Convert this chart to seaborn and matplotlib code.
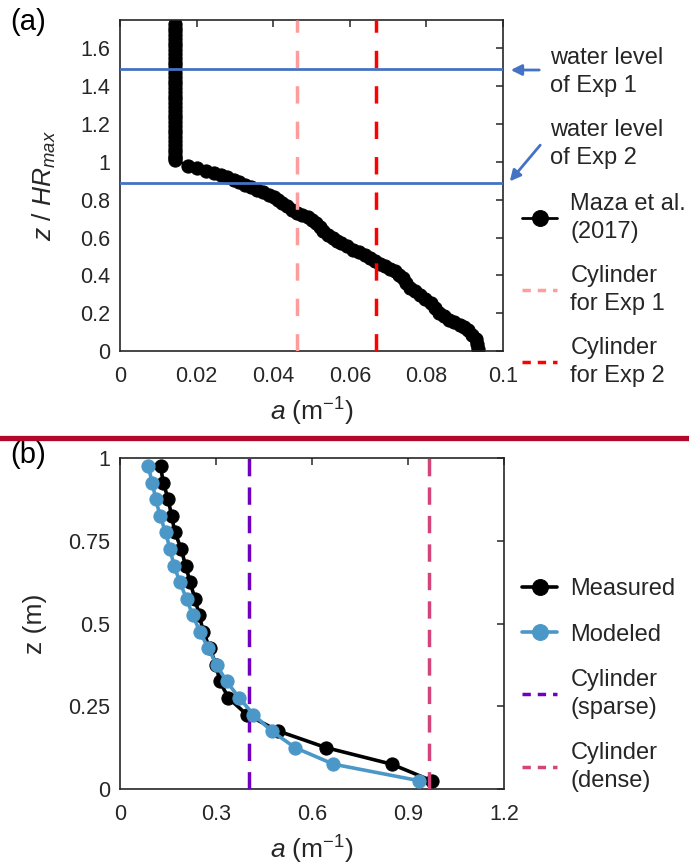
import matplotlib
matplotlib.use("Agg")
import matplotlib.pyplot as plt
from matplotlib.lines import Line2D
from matplotlib.patches import FancyArrowPatch
import seaborn as sns
import pandas as pd

# ---------------- data: panel (a) ----------------
maza_a = [0.0143] * 38 + [
    0.0178, 0.0200, 0.0224, 0.0245, 0.0263, 0.0280, 0.0297, 0.0312, 0.0327,
    0.0342, 0.0357, 0.0373, 0.0389, 0.0401, 0.0413, 0.0424, 0.0435, 0.0448,
    0.0461, 0.0476, 0.0491, 0.0502, 0.0513, 0.0521, 0.0530, 0.0543, 0.0556,
    0.0567, 0.0578, 0.0593, 0.0608, 0.0623, 0.0639, 0.0652, 0.0665, 0.0678,
    0.0691, 0.0704, 0.0717, 0.0728, 0.0739, 0.0747, 0.0756, 0.0769, 0.0782,
    0.0797, 0.0813, 0.0823, 0.0834, 0.0847, 0.0860, 0.0873, 0.0887, 0.0897,
    0.0908, 0.0920, 0.0930, 0.0932, 0.0935]
maza_z = [1.73, 1.71, 1.69, 1.67, 1.65, 1.63, 1.61, 1.59, 1.57, 1.55, 1.53,
          1.51, 1.49, 1.47, 1.45, 1.43, 1.41, 1.39, 1.37, 1.35, 1.33, 1.31,
          1.29, 1.27, 1.25, 1.23, 1.21, 1.19, 1.17, 1.15, 1.13, 1.11, 1.09,
          1.07, 1.05, 1.03, 1.02, 1.01] + [
    0.980, 0.967, 0.954, 0.942, 0.931, 0.918, 0.905, 0.892, 0.880,
    0.866, 0.852, 0.839, 0.826, 0.812, 0.799, 0.782, 0.764, 0.746,
    0.729, 0.720, 0.711, 0.694, 0.677, 0.655, 0.632, 0.615, 0.597,
    0.584, 0.571, 0.553, 0.536, 0.522, 0.509, 0.491, 0.474, 0.460,
    0.447, 0.434, 0.421, 0.403, 0.386, 0.360, 0.334, 0.316, 0.298,
    0.276, 0.254, 0.228, 0.202, 0.184, 0.166, 0.153, 0.140, 0.126,
    0.113, 0.087, 0.061, 0.035, 0.008]
cyl_exp1_a = 0.0463
cyl_exp2_a = 0.0668
water_level_exp1 = 1.49
water_level_exp2 = 0.888
xticks_a = [0, 0.02, 0.04, 0.06, 0.08, 0.1]
xticklabels_a = ["0", "0.02", "0.04", "0.06", "0.08", "0.1"]
yticks_a = [0, 0.2, 0.4, 0.6, 0.8, 1.0, 1.2, 1.4, 1.6]
yticklabels_a = ["0", "0.2", "0.4", "0.6", "0.8", "1", "1.2", "1.4", "1.6"]

# ---------------- data: panel (b) ----------------
z_b = [0.975, 0.925, 0.875, 0.825, 0.775, 0.725, 0.675, 0.625, 0.575, 0.525,
       0.475, 0.425, 0.375, 0.325, 0.275, 0.225, 0.175, 0.125, 0.075, 0.025]
measured_a = [0.127, 0.135, 0.151, 0.161, 0.172, 0.191, 0.205, 0.219, 0.234,
              0.248, 0.260, 0.281, 0.300, 0.312, 0.339, 0.396, 0.495, 0.644,
              0.849, 0.974]
modeled_a = [0.088, 0.101, 0.112, 0.125, 0.143, 0.156, 0.169, 0.187, 0.208,
             0.227, 0.250, 0.276, 0.302, 0.333, 0.373, 0.417, 0.474, 0.547,
             0.667, 0.935]
cyl_sparse_a = 0.404
cyl_dense_a = 0.966
xticks_b = [0, 0.3, 0.6, 0.9, 1.2]
xticklabels_b = ["0", "0.3", "0.6", "0.9", "1.2"]
yticks_b = [0, 0.25, 0.5, 0.75, 1.0]
yticklabels_b = ["0", "0.25", "0.5", "0.75", "1"]

# ---------------- style ----------------
sns.set_theme(style="white")
plt.rcParams["font.family"] = ["Liberation Sans", "DejaVu Sans"]
plt.rcParams["mathtext.fontset"] = "custom"
plt.rcParams["mathtext.it"] = "Liberation Sans:italic"
plt.rcParams["mathtext.rm"] = "Liberation Sans"
plt.rcParams["mathtext.default"] = "regular"

TXT = "#262626"
TICK_FS = 15.5
LAB_FS = 19
LEG_FS = 17
LS = 1.33
BLUE_LVL = "#4472c4"
W, H = 689, 867
fig = plt.figure(figsize=(W / 100, H / 100), dpi=100)
ax1 = fig.add_axes([120 / W, 1 - 351 / H, 383 / W, 331 / H])
ax2 = fig.add_axes([120 / W, 1 - 789 / H, 384 / W, 331 / H])


def style_axis(ax):
    for s in ax.spines.values():
        s.set_visible(True)
        s.set_color(TXT)
        s.set_linewidth(1.2)
    ax.tick_params(direction="in", length=5, width=1.1, colors=TXT,
                   top=True, right=True, labelsize=TICK_FS, labelcolor=TXT)
    ax.tick_params(axis="x", pad=11)
    ax.tick_params(axis="y", pad=7)
    ax.grid(False)


def dash_handle(color):
    return Line2D([], [], color=color, lw=2.5, dashes=(2.4, 2.0))


# ---------------- panel (a) ----------------
df_a = pd.DataFrame({"a": maza_a, "z": maza_z})
sns.lineplot(data=df_a, x="a", y="z", sort=False, estimator=None, ax=ax1,
             color="black", marker="o", markersize=9.5, markeredgecolor="black",
             linewidth=2, label="Maza et al.\n(2017)", zorder=2)
ax1.axhline(water_level_exp1, color=BLUE_LVL, lw=2, zorder=3)
ax1.axhline(water_level_exp2, color=BLUE_LVL, lw=2, zorder=3)
ax1.axvline(cyl_exp1_a, color="#ff9c9c", lw=2.5, dashes=(5, 5.2), zorder=4)
ax1.axvline(cyl_exp2_a, color="#ff0000", lw=2.5, dashes=(5, 5.2), zorder=4)
ax1.set_xlim(0, 0.1)
ax1.set_ylim(0, 1.75)
ax1.set_xticks(xticks_a)
ax1.set_xticklabels(xticklabels_a)
ax1.set_yticks(yticks_a)
ax1.set_yticklabels(yticklabels_a)
ax1.set_xlabel(r"$\mathit{a}$ (m$^{-1}$)", fontsize=LAB_FS, color=TXT, labelpad=6)
ax1.set_ylabel(r"$\mathit{z}$ / $\mathit{HR}_{\mathit{max}}$", fontsize=LAB_FS,
               color=TXT, labelpad=16)
style_axis(ax1)
h1, _ = ax1.get_legend_handles_labels()
leg1 = ax1.legend([h1[0], dash_handle("#ff9c9c"), dash_handle("#ff0000")],
                  ["Maza et al.\n(2017)", "Cylinder\nfor Exp 1", "Cylinder\nfor Exp 2"],
                  loc="upper left", bbox_to_anchor=(522 / W, 1 - 193 / H),
                  bbox_transform=fig.transFigure, frameon=False, fontsize=LEG_FS,
                  handlelength=1.5, handletextpad=0.55, labelspacing=0.95,
                  borderpad=0, borderaxespad=0, markerscale=1.2)
for t in leg1.get_texts():
    t.set_color(TXT)
    t.set_linespacing(LS)

# water level annotations
for (y_tail, y_head, y_txt, txt) in [(70, 70, 72, "water level\nof Exp 1"),
                                     (143, 183.5, 144, "water level\nof Exp 2")]:
    fig.add_artist(FancyArrowPatch(
        (542 / W, 1 - y_tail / H), (508 / W, 1 - y_head / H),
        transform=fig.transFigure, arrowstyle="-|>", mutation_scale=16,
        color=BLUE_LVL, lw=2))
    fig.text(550 / W, 1 - y_txt / H, txt, fontsize=LEG_FS, color=TXT,
             va="center", ha="left", linespacing=LS)

# ---------------- panel (b) ----------------
df_meas = pd.DataFrame({"a": measured_a, "z": z_b})
df_mod = pd.DataFrame({"a": modeled_a, "z": z_b})
sns.lineplot(data=df_meas, x="a", y="z", sort=False, estimator=None, ax=ax2,
             color="black", marker="o", markersize=9.5, markeredgecolor="black",
             linewidth=2.6, label="Measured", zorder=2)
ax2.axvline(cyl_sparse_a, color="#7000c0", lw=2.5, dashes=(5, 3.2), zorder=3)
ax2.axvline(cyl_dense_a, color="#d3447a", lw=2.5, dashes=(5, 3.2), zorder=3)
sns.lineplot(data=df_mod, x="a", y="z", sort=False, estimator=None, ax=ax2,
             color="#4b97c8", marker="o", markersize=9.5,
             markeredgecolor="#4b97c8", linewidth=2.6, label="Modeled", zorder=4)
ax2.set_xlim(0, 1.2)
ax2.set_ylim(0, 1.0)
ax2.set_xticks(xticks_b)
ax2.set_xticklabels(xticklabels_b)
ax2.set_yticks(yticks_b)
ax2.set_yticklabels(yticklabels_b)
ax2.set_xlabel(r"$\mathit{a}$ (m$^{-1}$)", fontsize=LAB_FS, color=TXT, labelpad=6)
ax2.set_ylabel("z (m)", fontsize=LAB_FS, color=TXT, labelpad=15)
style_axis(ax2)
h2, l2 = ax2.get_legend_handles_labels()
leg2 = ax2.legend([h2[l2.index("Measured")], h2[l2.index("Modeled")],
                   dash_handle("#7000c0"), dash_handle("#d3447a")],
                  ["Measured", "Modeled", "Cylinder\n(sparse)", "Cylinder\n(dense)"],
                  loc="upper left", bbox_to_anchor=(522 / W, 1 - 578 / H),
                  bbox_transform=fig.transFigure, frameon=False, fontsize=LEG_FS,
                  handlelength=1.5, handletextpad=0.55, labelspacing=1.0,
                  borderpad=0, borderaxespad=0, markerscale=1.2)
for t in leg2.get_texts():
    t.set_color(TXT)
    t.set_linespacing(LS)

# panel labels and separator
fig.text(10 / W, 1 - 22 / H, "(a)", fontsize=21, color="black", va="center")
fig.text(10 / W, 1 - 455 / H, "(b)", fontsize=21, color="black", va="center")
fig.add_artist(Line2D([0, 1], [1 - 437.5 / H] * 2, transform=fig.transFigure,
                      color="#b0092c", lw=3.8))

fig.savefig("out.png", dpi=100)
